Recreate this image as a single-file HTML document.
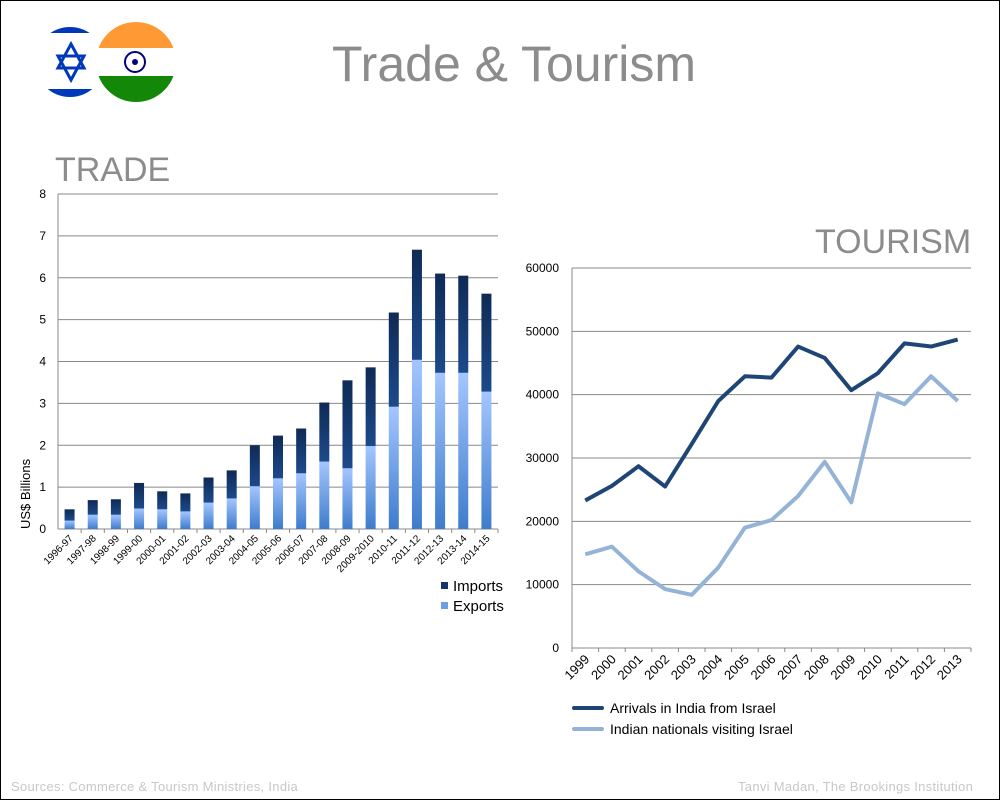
<!DOCTYPE html>
<html><head><meta charset="utf-8"><style>
body{margin:0;background:#fff}
#wrap{position:relative;width:998px;height:798px;border:1px solid #000;overflow:hidden;font-family:"Liberation Sans",sans-serif}
.t{position:absolute;color:#8c8c8c;white-space:nowrap}
</style></head><body>
<div id="wrap">
<svg width="1000" height="800" style="position:absolute;left:-1px;top:-1px">
<defs>
<linearGradient id="gi" x1="0" y1="0" x2="0" y2="1"><stop offset="0" stop-color="#0f2a55"/><stop offset="1" stop-color="#1c4a8c"/></linearGradient>
<linearGradient id="ge" x1="0" y1="0" x2="0" y2="1"><stop offset="0" stop-color="#a4c6ff"/><stop offset="1" stop-color="#3e7ccc"/></linearGradient>
<clipPath id="c1"><circle cx="70" cy="62" r="35"/></clipPath>
<clipPath id="c2"><circle cx="136" cy="62" r="40"/></clipPath>
</defs>
<g clip-path="url(#c1)">
<rect x="30" y="20" width="80" height="90" fill="#fff"/>
<rect x="30" y="20" width="80" height="13" fill="#0038b8"/>
<rect x="30" y="89" width="80" height="13" fill="#0038b8"/>
<polygon points="71,44 84,68 58,68" fill="none" stroke="#0038b8" stroke-width="3"/>
<polygon points="71,80 84,56 58,56" fill="none" stroke="#0038b8" stroke-width="3"/>
</g>
<g clip-path="url(#c2)">
<rect x="96" y="20" width="80" height="28" fill="#ff9933"/>
<rect x="96" y="48" width="80" height="28" fill="#fff"/>
<rect x="96" y="76" width="80" height="30" fill="#138808"/>
<circle cx="135" cy="62" r="10" fill="none" stroke="#000080" stroke-width="2"/>
<circle cx="135" cy="62" r="3" fill="#000080"/>
</g>
<g id="bars"></g>
<g id="lines"></g>
</svg>
<div class="t" style="left:331px;top:34px;font-size:50px;color:#8c8c8c">Trade &amp; Tourism</div>
<div class="t" style="left:54px;top:150px;font-size:34px">TRADE</div>
<div class="t" style="left:814px;top:222px;font-size:34px">TOURISM</div>
<div class="t" style="left:10px;top:778px;font-size:13px;color:#c8c8c8;letter-spacing:0.3px">Sources: Commerce &amp; Tourism Ministries, India</div>
<div class="t" style="left:737px;top:778px;font-size:13px;color:#c8c8c8;letter-spacing:0.3px">Tanvi Madan, The Brookings Institution</div>
</div>
<script>
const tradeYears=["1996-97","1997-98","1998-99","1999-00","2000-01","2001-02","2002-03","2003-04","2004-05","2005-06","2006-07","2007-08","2008-09","2009-2010","2010-11","2011-12","2012-13","2013-14","2014-15"];
const exportsVals=[0.2,0.34,0.34,0.49,0.47,0.42,0.63,0.73,1.02,1.21,1.33,1.61,1.45,1.98,2.92,4.04,3.73,3.73,3.28];
const importsVals=[0.27,0.35,0.37,0.61,0.43,0.43,0.6,0.67,0.98,1.02,1.07,1.41,2.1,1.88,2.25,2.63,2.37,2.32,2.34];
const tradeTicks=[0,1,2,3,4,5,6,7,8];
const tourYears=["1999","2000","2001","2002","2003","2004","2005","2006","2007","2008","2009","2010","2011","2012","2013"];
const arrivals=[23300,25600,28700,25500,32200,39000,42900,42700,47600,45800,40700,43400,48100,47600,48700];
const indianVisitors=[14800,16000,12100,9300,8400,12700,19000,20200,24000,29400,23000,40200,38500,42900,39000];
const tourTicks=[0,10000,20000,30000,40000,50000,60000];
const NS="http://www.w3.org/2000/svg";
function mk(p,tag,at){const e=document.createElementNS(NS,tag);for(const k in at)e.setAttribute(k,at[k]);p.appendChild(e);return e;}
const B=document.getElementById('bars');
const bx0=58,bx1=498,by0=529,by1=194;
const byS=v=>by0-(by0-by1)*v/8;
const slot=(bx1-bx0)/tradeYears.length;
const bxS=i=>bx0+slot*(i+0.5);
tradeTicks.forEach(t=>{
 const l=mk(B,'line',{x1:bx0,x2:bx1,y1:byS(t),y2:byS(t),stroke:'#888','stroke-width':1});
 
 const tx=mk(B,'text',{x:bx0-12,y:byS(t)+4,'font-size':12,'text-anchor':'end','font-family':'Liberation Sans',fill:'#000'});tx.textContent=t;
 
});
mk(B,'line',{x1:bx0,x2:bx0,y1:by1,y2:by0,stroke:'#888'});
tradeYears.forEach((y,i)=>{
 const cx=bxS(i);
 const e=mk(B,'rect',{x:cx-5,y:byS(exportsVals[i]),width:10,height:by0-byS(exportsVals[i]),fill:'url(#ge)'});
 
 const im=mk(B,'rect',{x:cx-5,y:byS(exportsVals[i]+importsVals[i]),width:10,height:byS(exportsVals[i])-byS(exportsVals[i]+importsVals[i]),fill:'url(#gi)'});
 
 mk(B,'line',{x1:bx0+slot*(i+1),x2:bx0+slot*(i+1),y1:by0,y2:by0+4,stroke:'#888'});
 const tx=mk(B,'text',{x:cx+4,y:by0+10,'font-size':10,'text-anchor':'end','font-family':'Liberation Sans',transform:`rotate(-45 ${cx+4} ${by0+10})`});tx.textContent=y;
 
});
let yl=mk(B,'text',{x:30,y:by0,'font-size':13,'font-family':'Liberation Sans',transform:`rotate(-90 30 ${by0})`});yl.textContent='US$ Billions';

[['Imports','#13336a',588],['Exports','#6a9fe4',608]].forEach(([n,c,y])=>{
 const g=mk(B,'g',{});
 mk(g,'rect',{x:441,y:y-6,width:7,height:7,fill:c});
 const t=mk(g,'text',{x:453,y:y+3,'font-size':15,'font-family':'Liberation Sans',fill:'#000'});t.textContent=n;
});
const L=document.getElementById('lines');
const lx0=572,lx1=971,ly0=648,ly1=268;
const lyS=v=>ly0-(ly0-ly1)*v/60000;
const ls=(lx1-lx0)/tourYears.length;
const lxS=i=>lx0+ls*(i+0.5);
tourTicks.forEach(t=>{
 const l=mk(L,'line',{x1:lx0,x2:lx1,y1:lyS(t),y2:lyS(t),stroke:'#888'});
 
 const tx=mk(L,'text',{x:lx0-13,y:lyS(t)+4,'font-size':12,'text-anchor':'end','font-family':'Liberation Sans'});tx.textContent=t;
 
});
mk(L,'line',{x1:lx0,x2:lx0,y1:ly1,y2:ly0,stroke:'#888'});
tourYears.forEach((y,i)=>{
 mk(L,'line',{x1:lx0+ls*i,x2:lx0+ls*i,y1:ly0,y2:ly0+4,stroke:'#888'});
 const cx=lxS(i);
 const tx=mk(L,'text',{x:cx+5,y:ly0+12,'font-size':13,'text-anchor':'end','font-family':'Liberation Sans',transform:`rotate(-45 ${cx+5} ${ly0+12})`});tx.textContent=y;
 
});
mk(L,'line',{x1:lx1,x2:lx1,y1:ly0,y2:ly0+4,stroke:'#888'});
[[arrivals,'#1f4577','series-arrivals'],[indianVisitors,'#95b3d7','series-indian-visitors']].forEach(([d,c,n])=>{
 const p=mk(L,'polyline',{points:d.map((v,i)=>lxS(i)+','+lyS(v)).join(' '),fill:'none',stroke:c,'stroke-width':4,'stroke-linejoin':'round'});
 
});
[['Arrivals in India from Israel','#1f4577',708],['Indian nationals visiting Israel','#95b3d7',729]].forEach(([n,c,y])=>{
 const g=mk(L,'g',{});
 mk(g,'line',{x1:574,x2:602,y1:y,y2:y,stroke:c,'stroke-width':4,'stroke-linecap':'round'});
 const t=mk(g,'text',{x:610,y:y+5,'font-size':14,'font-family':'Liberation Sans'});t.textContent=n;
});
</script>
</body></html>
